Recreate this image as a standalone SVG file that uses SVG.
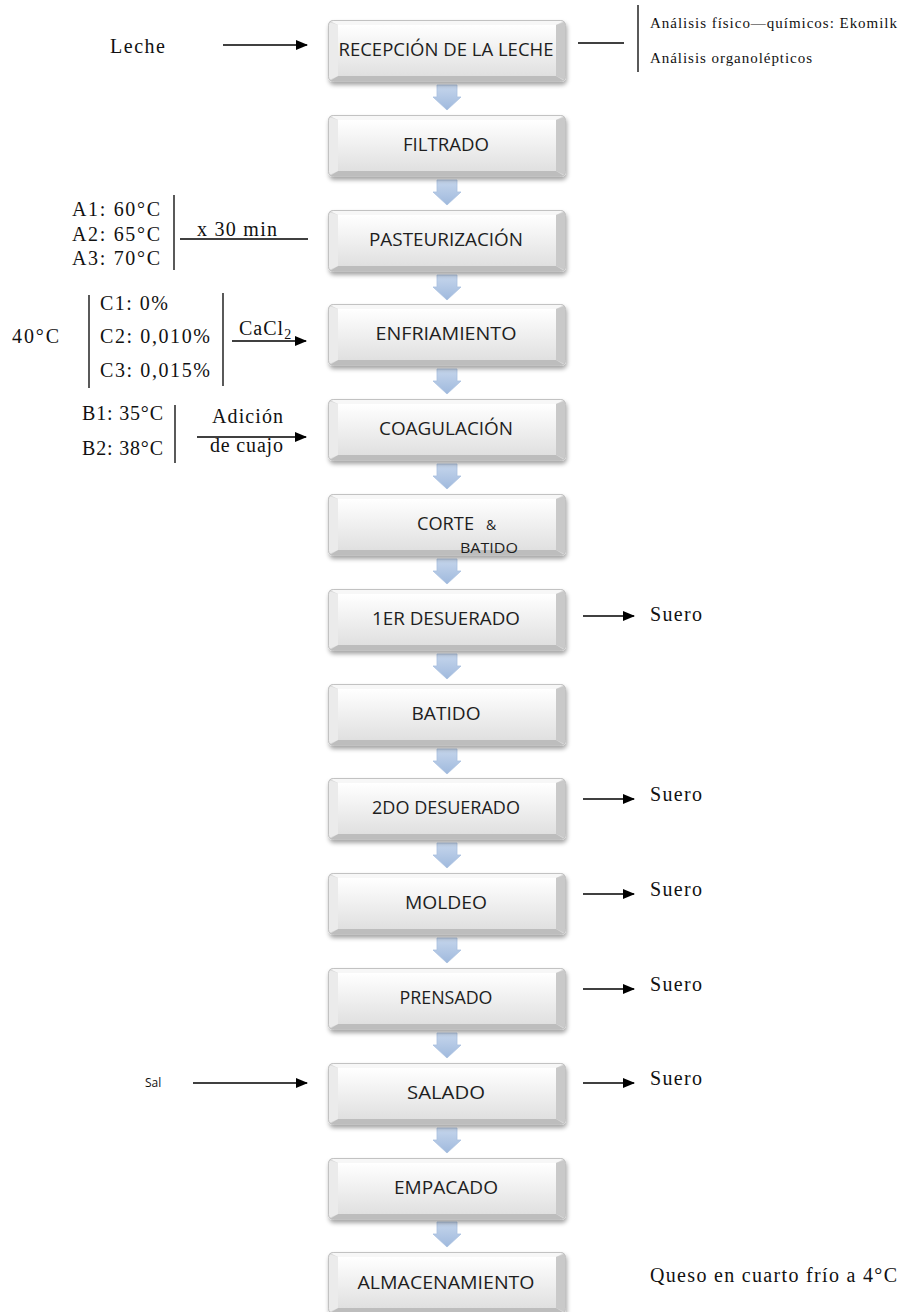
<svg xmlns="http://www.w3.org/2000/svg" xmlns:xlink="http://www.w3.org/1999/xlink" width="903" height="1312" viewBox="0 0 903 1312">
<style>
.bt{font-family:"Open Sans","Liberation Sans",sans-serif;font-size:19px;fill:#1e1e1e;text-anchor:middle}
.sf{font-family:"Liberation Serif","Times New Roman",serif;font-size:20px;fill:#111}
.sm{font-family:"Liberation Serif","Times New Roman",serif;font-size:15px;fill:#111}
.ln{stroke:#000;stroke-width:1.3;fill:none}
.ar{stroke:#000;stroke-width:1.3;fill:none;marker-end:url(#ah)}
</style>
<defs>
<marker id="ah" markerUnits="userSpaceOnUse" markerWidth="12" markerHeight="10" refX="11" refY="5" orient="auto">
<path d="M0,0 L12,5 L0,10 z" fill="#000"/>
</marker>
<linearGradient id="face" x1="0" y1="0" x2="0" y2="1">
<stop offset="0" stop-color="#ffffff"/><stop offset="1" stop-color="#e0e0e0"/>
</linearGradient>
<linearGradient id="blu" x1="0" y1="0" x2="0" y2="1">
<stop offset="0" stop-color="#c6d6ec"/><stop offset="1" stop-color="#9fb9dd"/>
</linearGradient>
<filter id="sh" x="-10%" y="-20%" width="120%" height="150%">
<feDropShadow dx="1" dy="3" stdDeviation="2" flood-color="#000" flood-opacity="0.35"/>
</filter>
<g id="box">
<rect x="0" y="0" width="238" height="62" rx="5" fill="#d8d8d8" filter="url(#sh)"/>
<path d="M2,1 L236,1 L228,5 L10,5 z" fill="#f7f7f7"/>
<path d="M2,61 L236,61 L228,56 L10,56 z" fill="#bdbdbd"/>
<path d="M1,2 L10,5 L10,56 L1,60 z" fill="#ebebeb"/>
<path d="M237,2 L228,5 L228,56 L237,60 z" fill="#c9c9c9"/>
<rect x="10" y="5" width="218" height="51" fill="url(#face)"/>
<rect x="0.5" y="0.5" width="237" height="61" rx="5" fill="none" stroke="#c2c2c2"/>
</g>
<path id="down" d="M-10,0 L10,0 L10,12 L14,12 L0,25 L-14,12 L-10,12 z" fill="url(#blu)" stroke="#a9c0e0" stroke-width="0.8"/>
</defs>

<g id="flow-arrows">
<use xlink:href="#down" x="447" y="85"/>
<use xlink:href="#down" x="447" y="180"/>
<use xlink:href="#down" x="447" y="275"/>
<use xlink:href="#down" x="447" y="369"/>
<use xlink:href="#down" x="447" y="464"/>
<use xlink:href="#down" x="447" y="559"/>
<use xlink:href="#down" x="447" y="654"/>
<use xlink:href="#down" x="447" y="749"/>
<use xlink:href="#down" x="447" y="843"/>
<use xlink:href="#down" x="447" y="938"/>
<use xlink:href="#down" x="447" y="1033"/>
<use xlink:href="#down" x="447" y="1128"/>
<use xlink:href="#down" x="447" y="1222"/>
</g>

<g id="n1" transform="translate(328,20)"><use xlink:href="#box"/><text class="bt" x="118" y="36" textLength="215" lengthAdjust="spacingAndGlyphs">RECEPCIÓN DE LA LECHE</text></g>
<g id="n2" transform="translate(328,115)"><use xlink:href="#box"/><text class="bt" x="118" y="36" textLength="86" lengthAdjust="spacingAndGlyphs">FILTRADO</text></g>
<g id="n3" transform="translate(328,210)"><use xlink:href="#box"/><text class="bt" x="118" y="36" textLength="154" lengthAdjust="spacingAndGlyphs">PASTEURIZACIÓN</text></g>
<g id="n4" transform="translate(328,304)"><use xlink:href="#box"/><text class="bt" x="118" y="36" textLength="141" lengthAdjust="spacingAndGlyphs">ENFRIAMIENTO</text></g>
<g id="n5" transform="translate(328,399)"><use xlink:href="#box"/><text class="bt" x="118" y="36" textLength="134" lengthAdjust="spacingAndGlyphs">COAGULACIÓN</text></g>
<g id="n6" transform="translate(328,494)"><use xlink:href="#box"/>
<text class="bt" x="89" y="36" style="text-anchor:start" textLength="57" lengthAdjust="spacingAndGlyphs">CORTE</text>
<text class="bt" x="158" y="36" style="text-anchor:start;font-size:14px">&amp;</text>
<text class="bt" x="132" y="59" style="text-anchor:start;font-size:15px" textLength="58" lengthAdjust="spacingAndGlyphs">BATIDO</text>
</g>
<g id="n7" transform="translate(328,589)"><use xlink:href="#box"/><text class="bt" x="118" y="36" textLength="148" lengthAdjust="spacingAndGlyphs">1ER DESUERADO</text></g>
<g id="n8" transform="translate(328,684)"><use xlink:href="#box"/><text class="bt" x="118" y="36" textLength="69" lengthAdjust="spacingAndGlyphs">BATIDO</text></g>
<g id="n9" transform="translate(328,778)"><use xlink:href="#box"/><text class="bt" x="118" y="36" textLength="148" lengthAdjust="spacingAndGlyphs">2DO DESUERADO</text></g>
<g id="n10" transform="translate(328,873)"><use xlink:href="#box"/><text class="bt" x="118" y="36" textLength="82" lengthAdjust="spacingAndGlyphs">MOLDEO</text></g>
<g id="n11" transform="translate(328,968)"><use xlink:href="#box"/><text class="bt" x="118" y="36" textLength="93" lengthAdjust="spacingAndGlyphs">PRENSADO</text></g>
<g id="n12" transform="translate(328,1063)"><use xlink:href="#box"/><text class="bt" x="118" y="36" textLength="78" lengthAdjust="spacingAndGlyphs">SALADO</text></g>
<g id="n13" transform="translate(328,1158)"><use xlink:href="#box"/><text class="bt" x="118" y="36" textLength="104" lengthAdjust="spacingAndGlyphs">EMPACADO</text></g>
<g id="n14" transform="translate(328,1252)"><use xlink:href="#box"/><text class="bt" x="118" y="37" textLength="177" lengthAdjust="spacingAndGlyphs">ALMACENAMIENTO</text></g>

<g id="connectors">
<line class="ar" x1="223" y1="45" x2="307" y2="45"/>
<line class="ln" x1="578" y1="43" x2="624" y2="43"/>
<line class="ln" x1="638" y1="5" x2="638" y2="72"/>
<line class="ln" x1="174" y1="195" x2="174" y2="270"/>
<line class="ln" x1="180" y1="239" x2="308" y2="239"/>
<line class="ln" x1="89" y1="295" x2="89" y2="388"/>
<line class="ln" x1="223" y1="293" x2="223" y2="386"/>
<line class="ar" x1="232" y1="341" x2="306" y2="341"/>
<line class="ln" x1="175" y1="405" x2="175" y2="463"/>
<line class="ar" x1="197" y1="437" x2="306" y2="437"/>
<line class="ar" x1="583" y1="616" x2="634" y2="616"/>
<line class="ar" x1="583" y1="799" x2="634" y2="799"/>
<line class="ar" x1="583" y1="894" x2="634" y2="894"/>
<line class="ar" x1="583" y1="989" x2="634" y2="989"/>
<line class="ar" x1="583" y1="1083" x2="634" y2="1083"/>
<line class="ar" x1="193" y1="1083" x2="307" y2="1083"/>
</g>

<g id="labels">
<text class="sf" x="110" y="53" textLength="55">Leche</text>
<text class="sm" x="650" y="28" textLength="247">Análisis físico—químicos: Ekomilk</text>
<text class="sm" x="650" y="63" textLength="162">Análisis organolépticos</text>
<text class="sf" x="72" y="216" textLength="88">A1: 60°C</text>
<text class="sf" x="72" y="241" textLength="88">A2: 65°C</text>
<text class="sf" x="72" y="265" textLength="88">A3: 70°C</text>
<text class="sf" x="197" y="236" textLength="80">x 30 min</text>
<text class="sf" x="12" y="343" textLength="47">40°C</text>
<text class="sf" x="100" y="310" textLength="68">C1: 0%</text>
<text class="sf" x="100" y="343" textLength="110">C2: 0,010%</text>
<text class="sf" x="100" y="377" textLength="110">C3: 0,015%</text>
<text class="sf" x="239" y="335" letter-spacing="1">CaCl<tspan font-size="14" dy="4">2</tspan></text>
<text class="sf" x="82" y="420" textLength="81">B1: 35°C</text>
<text class="sf" x="82" y="455" textLength="81">B2: 38°C</text>
<text class="sf" x="212" y="423" textLength="71">Adición</text>
<text class="sf" x="210" y="452" textLength="73">de cuajo</text>
<text class="sf" x="650" y="621" textLength="52">Suero</text>
<text class="sf" x="650" y="801" textLength="52">Suero</text>
<text class="sf" x="650" y="896" textLength="52">Suero</text>
<text class="sf" x="650" y="991" textLength="52">Suero</text>
<text class="sf" x="650" y="1085" textLength="52">Suero</text>
<text x="145" y="1087" style="font-family:'Open Sans','Liberation Sans',sans-serif;font-size:12px;fill:#111">Sal</text>
<text class="sf" x="650" y="1282" textLength="247">Queso en cuarto frío a 4°C</text>
</g>
</svg>
